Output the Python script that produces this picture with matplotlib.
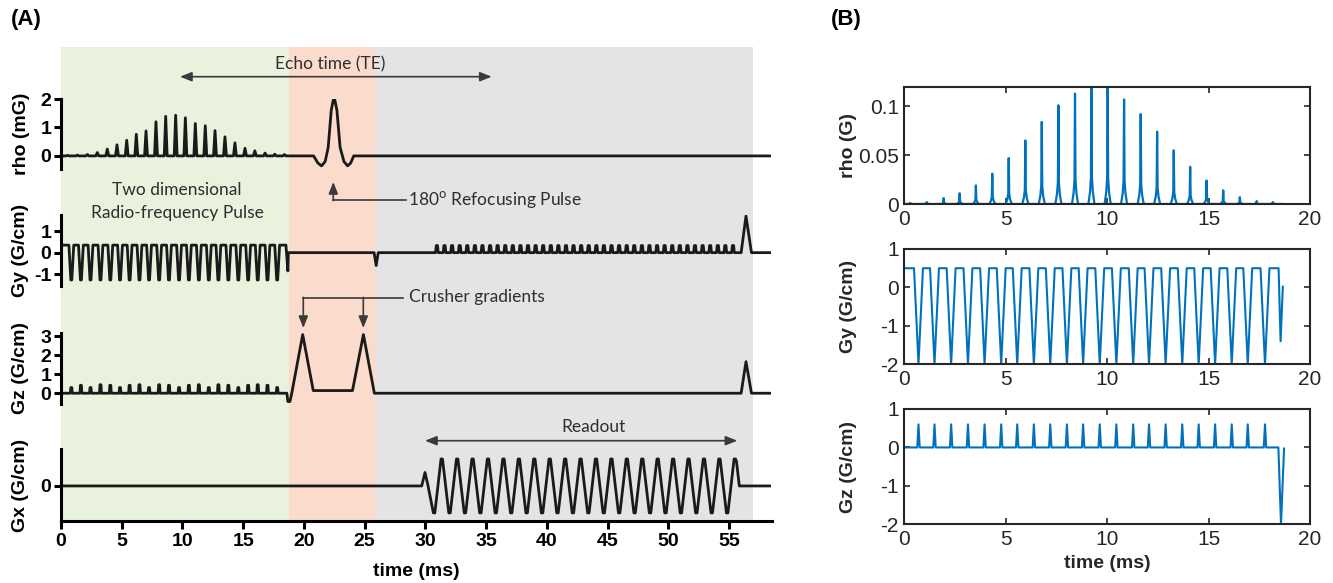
import matplotlib
matplotlib.use('Agg')
import matplotlib.pyplot as plt

plt.rcParams['axes.unicode_minus'] = False

# ---------------- data: panel (A) schematic, times in ms ----------------
phase_edges = [0, 18.8, 25.95, 56.95]
phase_colors = ['#E9F2DD', '#FBDBCB', '#E4E4E6']

# RF sub-pulses of the 2D excitation (mG)
a_rho_t = [0.55, 1.35, 2.17, 2.99, 3.81, 4.61, 5.41, 6.2, 7.0, 7.82, 8.62, 9.44,
           10.24, 11.06, 11.88, 12.68, 13.5, 14.32, 15.15, 15.96, 16.8, 17.6, 18.4]
a_rho_h = [0.02, 0.03, 0.05, 0.12, 0.24, 0.39, 0.55, 0.76, 0.88, 1.2, 1.39, 1.43,
           1.34, 1.14, 1.06, 0.89, 0.67, 0.46, 0.27, 0.18, 0.1, 0.06, 0.05]
# 180 refocusing pulse
a_ref_t = [20.8, 21.15, 21.45, 21.75, 22.0, 22.25, 22.48, 22.72, 22.98, 23.3, 23.6, 23.85, 24.1]
a_ref_v = [0, -0.25, -0.35, -0.2, 0.3, 1.6, 2.1, 1.6, 0.3, -0.2, -0.35, -0.25, 0]

# excitation gradient blips (Gy dips / Gz blips)
a_enc_t = [0.85, 1.64, 2.43, 3.25, 4.06, 4.86, 5.65, 6.46, 7.25, 8.08, 8.89, 9.72,
           10.53, 11.35, 12.17, 12.96, 13.78, 14.6, 15.41, 16.2, 17.0, 17.8]
a_gy_top, a_gy_dip = 0.35, -1.27
a_gz_h = [0.3, 0.42, 0.3, 0.45, 0.42, 0.3, 0.42, 0.45, 0.3, 0.45, 0.42,
          0.3, 0.42, 0.45, 0.3, 0.45, 0.42, 0.3, 0.42, 0.45, 0.42, 0.3]

a_gy_tail_t = [18.52, 18.68, 18.72, 25.78, 25.95, 26.12]
a_gy_tail_v = [0.35, -0.85, 0, 0, -0.6, 0]
# phase-encode blips during readout
a_gy_blip_t = [30.95, 31.58, 32.2, 32.83, 33.45, 34.08, 34.7, 35.33, 35.95, 36.58,
               37.2, 37.83, 38.45, 39.08, 39.7, 40.33, 40.95, 41.58, 42.2, 42.83,
               43.45, 44.08, 44.7, 45.33, 45.95, 46.58, 47.2, 47.83, 48.45, 49.08,
               49.7, 50.33, 50.95, 51.58, 52.2, 52.83, 53.45, 54.08, 54.7, 55.33]
a_gy_blip_h = 0.33
a_gy_end_t = [56.0, 56.4, 56.85]
a_gy_end_v = [0, 1.7, 0]

a_gz_tail_t = [18.6, 18.68, 18.85, 19.0, 19.9, 20.77, 24.0, 24.9, 25.8, 56.0, 56.4, 56.85]
a_gz_tail_v = [0, -0.44, -0.44, 0, 3.1, 0.14, 0.14, 3.1, 0, 0, 1.67, 0]

# readout gradient
a_gx_pre_t = [29.7, 29.97, 30.2]
a_gx_pre_v = [0, 0.5, 0.05]
a_gx_peak_t = [31.35, 32.62, 33.89, 35.16, 36.43, 37.70, 38.97, 40.24, 41.51, 42.78,
               44.05, 45.32, 46.59, 47.86, 49.13, 50.40, 51.67, 52.94, 54.21, 55.48]
a_gx_trough_t = [30.72, 31.99, 33.26, 34.53, 35.80, 37.07, 38.34, 39.61, 40.88, 42.15,
                 43.42, 44.69, 45.96, 47.23, 48.50, 49.77, 51.04, 52.31, 53.58, 54.85]
a_gx_post_t = [55.62, 55.85]
a_gx_post_v = [0.9, 0]
A_XMAX = 58.5

# ---------------- data: panel (B) simulated waveforms ----------------
b_rho_t = [0.28, 1.10, 1.93, 2.72, 3.52, 4.33, 5.14, 5.96, 6.77, 7.59, 8.41, 9.22,
           10.02, 10.83, 11.65, 12.46, 13.28, 14.09, 14.90, 15.72, 16.54, 17.37, 18.17]
b_rho_h = [0.001, 0.002, 0.006, 0.011, 0.019, 0.031, 0.047, 0.065, 0.084, 0.101, 0.113, 0.122,
           0.12, 0.107, 0.092, 0.074, 0.055, 0.038, 0.024, 0.014, 0.007, 0.003, 0.002]
b_rho_end = 18.66
b_grad_t = [0.69, 1.48, 2.30, 3.13, 3.95, 4.77, 5.56, 6.38, 7.19, 8.01, 8.81,
            9.63, 10.45, 11.28, 12.06, 12.88, 13.70, 14.51, 15.32, 16.14, 16.93, 17.78]
b_gy_top, b_gy_dip = 0.5, -2.0
b_gy_tail_t = [18.45, 18.55, 18.66]
b_gy_tail_v = [0.5, -1.4, 0.02]
b_gz_blip = 0.6
b_gz_tail_t = [18.44, 18.57, 18.72]
b_gz_tail_v = [0, -2.0, -0.03]

# ---------------- helpers ----------------
W, H = 1333, 583


def box(x0, y0, x1, y1):
    return [x0 / W, 1 - y1 / H, (x1 - x0) / W, (y1 - y0) / H]


def spike_train(times, heights, base, half, flat=0.0):
    xs, ys = [], []
    for t, h in zip(times, heights):
        xs += [t - half, t - flat, t + flat, t + half]
        ys += [base, h, h, base]
    return xs, ys


fig = plt.figure(figsize=(W / 100, H / 100), dpi=100)
INK = '#1a1a1a'
ANN = '#3a3a3a'
LW_A = 2.0

# ---------------- panel A ----------------
A_L, A_R = 61, 771.5
bg = fig.add_axes(box(A_L, 47, A_R, 521))
bg.set_xlim(0, A_XMAX)
bg.set_ylim(521, 47)
bg.axis('off')
for i, c in enumerate(phase_colors):
    bg.axvspan(phase_edges[i], phase_edges[i + 1], color=c, lw=0)


def a_axes(y0, y1, ylim, yticks, label):
    ax = fig.add_axes(box(A_L, y0, A_R, y1))
    ax.set_facecolor('none')
    ax.set_xlim(0, A_XMAX)
    ax.set_ylim(*ylim)
    for s in ['top', 'right', 'bottom']:
        ax.spines[s].set_visible(False)
    ax.spines['left'].set_linewidth(2.2)
    ax.set_xticks([])
    ax.set_yticks(yticks)
    ax.tick_params(axis='y', length=5, width=2.2, pad=2, labelsize=14)
    for lab in ax.get_yticklabels():
        lab.set_fontweight('bold')
        lab.set_family('Liberation Sans')
    fig.text(21 / W, 1 - (y0 + y1) / 2 / H, label, rotation=90, ha='center', va='center',
             fontsize=14, fontweight='bold', family='Liberation Sans')
    return ax


ax_rho = a_axes(99, 169, (-0.46, 2.0), [0, 1, 2], 'rho (mG)')
xs, ys = spike_train(a_rho_t, a_rho_h, 0, 0.12)
xs = [0] + xs + a_ref_t + [A_XMAX]
ys = [0] + ys + a_ref_v + [0]
ax_rho.plot(xs, ys, color=INK, lw=LW_A)

ax_gy = a_axes(215, 286, (-1.55, 1.75), [-1, 0, 1], 'Gy (G/cm)')
xs, ys = spike_train(a_enc_t, [a_gy_dip] * len(a_enc_t), a_gy_top, 0.2, 0.04)
bx, by = spike_train(a_gy_blip_t, [a_gy_blip_h] * len(a_gy_blip_t), 0, 0.11, 0.05)
xs = [0] + xs + a_gy_tail_t + bx + a_gy_end_t + [A_XMAX]
ys = [a_gy_top] + ys + a_gy_tail_v + by + a_gy_end_v + [0]
ax_gy.plot(xs, ys, color=INK, lw=LW_A)

ax_gz = a_axes(332.7, 404, (-0.57, 3.2), [0, 1, 2, 3], 'Gz (G/cm)')
xs, ys = spike_train(a_enc_t, a_gz_h, 0, 0.08, 0.04)
xs = [0] + xs + a_gz_tail_t + [A_XMAX]
ys = [0] + ys + a_gz_tail_v + [0]
ax_gz.plot(xs, ys, color=INK, lw=LW_A)

ax_gx = a_axes(449, 521, (-1.3, 1.37), [0], 'Gx (G/cm)')
ax_gx.spines['bottom'].set_visible(True)
ax_gx.spines['bottom'].set_linewidth(2.2)
ax_gx.set_xticks(range(0, 56, 5))
ax_gx.tick_params(axis='x', length=6, width=2.2, pad=3, labelsize=14)
for lab in ax_gx.get_xticklabels():
    lab.set_fontweight('bold')
    lab.set_family('Liberation Sans')
ext = sorted([(t, 1) for t in a_gx_peak_t] + [(t, -1) for t in a_gx_trough_t])
ex, ey = [], []
for t, v in ext:
    ex += [t - 0.06, t + 0.06]
    ey += [v, v]
xs = [0] + a_gx_pre_t + ex + a_gx_post_t + [A_XMAX]
ys = [0] + a_gx_pre_v + ey + a_gx_post_v + [0]
ax_gx.plot(xs, ys, color=INK, lw=LW_A)
fig.text(416 / W, 1 - 571 / H, 'time (ms)', ha='center', va='center',
         fontsize=14, fontweight='bold', family='Liberation Sans')


def ms(px):
    return (px - A_L) / 12.145


arw2 = dict(arrowstyle='<|-|>,head_length=0.7,head_width=0.28', color=ANN, lw=1.2,
            shrinkA=0, shrinkB=0)
arw1 = dict(arrowstyle='-|>,head_length=0.7,head_width=0.28', color=ANN, lw=1.2,
            shrinkA=0, shrinkB=0)
tf = dict(family='Lato', fontsize=12.5, color='#2e2e2e')

bg.annotate('', xy=(ms(180), 76.7), xytext=(ms(491.7), 76.7), arrowprops=arw2)
bg.text(ms(330), 64, 'Echo time (TE)', ha='center', va='center', **tf)

bg.text(ms(177), 190, 'Two dimensional', ha='center', va='center', **tf)
bg.text(ms(177), 213, 'Radio-frequency Pulse', ha='center', va='center', **tf)

bg.plot([ms(333.3), ms(406)], [200, 200], color=ANN, lw=1.2)
bg.annotate('', xy=(ms(333.3), 182), xytext=(ms(333.3), 200.6), arrowprops=arw1)
bg.text(ms(408), 199, r'180$^{\rm o}$ Refocusing Pulse', ha='left', va='center', **tf)

bg.plot([ms(303.3), ms(403.3)], [298, 298], color=ANN, lw=1.2)
bg.annotate('', xy=(ms(303.3), 328), xytext=(ms(303.3), 297.4), arrowprops=arw1)
bg.annotate('', xy=(ms(363.3), 328), xytext=(ms(363.3), 297.4), arrowprops=arw1)
bg.text(ms(409), 297, 'Crusher gradients', ha='left', va='center', **tf)

bg.annotate('', xy=(ms(425), 440.7), xytext=(ms(737.3), 440.7), arrowprops=arw2)
bg.text(ms(593), 427, 'Readout', ha='center', va='center', **tf)

fig.text(26 / W, 1 - 19 / H, '(A)', ha='center', va='center', fontsize=16,
         fontweight='bold', family='Liberation Sans')
fig.text(846 / W, 1 - 19 / H, '(B)', ha='center', va='center', fontsize=16,
         fontweight='bold', family='Liberation Sans')

# ---------------- panel B ----------------
BLUE = '#0072BD'
DARK = '#262626'


def b_axes(y0, y1, ylim, yticks, yticklabels, label):
    ax = fig.add_axes(box(904.5, y0, 1310, y1))
    ax.set_xlim(0, 20)
    ax.set_ylim(*ylim)
    ax.set_xticks([0, 5, 10, 15, 20])
    ax.set_yticks(yticks)
    ax.set_yticklabels(yticklabels)
    for s in ax.spines.values():
        s.set_linewidth(1.5)
        s.set_color(DARK)
    ax.tick_params(direction='in', top=True, right=True, length=4, width=1.2,
                   colors=DARK, labelsize=15, pad=4)
    for lab in ax.get_xticklabels() + ax.get_yticklabels():
        lab.set_family('Liberation Sans')
    fig.text(848 / W, 1 - (y0 + y1) / 2 / H, label, rotation=90, ha='center', va='center',
             fontsize=14, fontweight='bold', family='Liberation Sans', color=DARK)
    return ax


bx_rho = b_axes(86.7, 204, (0, 0.12), [0, 0.05, 0.1], ['0', '0.05', '0.1'], 'rho (G)')
xs, ys = [0], [0]
for t, h in zip(b_rho_t, b_rho_h):
    xs += [t - 0.15, t - 0.07, t - 0.025, t, t + 0.025, t + 0.07, t + 0.15]
    ys += [0, 0.1 * h, 0.22 * h, h, 0.22 * h, 0.1 * h, 0]
xs.append(b_rho_end)
ys.append(0)
bx_rho.plot(xs, ys, color=BLUE, lw=1.6, clip_on=True)

bx_gy = b_axes(249, 364.3, (-2, 1), [-2, -1, 0, 1], ['-2', '-1', '0', '1'], 'Gy (G/cm)')
xs, ys = [0], [b_gy_top]
for t in b_grad_t:
    xs += [t - 0.22, t, t + 0.22]
    ys += [b_gy_top, b_gy_dip, b_gy_top]
xs += b_gy_tail_t
ys += b_gy_tail_v
bx_gy.plot(xs, ys, color=BLUE, lw=1.5)

bx_gz = b_axes(409, 524.3, (-2, 1), [-2, -1, 0, 1], ['-2', '-1', '0', '1'], 'Gz (G/cm)')
xs, ys = [0], [0]
for t in b_grad_t:
    xs += [t - 0.06, t, t + 0.06]
    ys += [0, b_gz_blip, 0]
xs += b_gz_tail_t
ys += b_gz_tail_v
bx_gz.plot(xs, ys, color=BLUE, lw=1.5)
fig.text(1107 / W, 1 - 563 / H, 'time (ms)', ha='center', va='center',
         fontsize=14, fontweight='bold', family='Liberation Sans', color=DARK)

fig.savefig('out.png', dpi=100)
